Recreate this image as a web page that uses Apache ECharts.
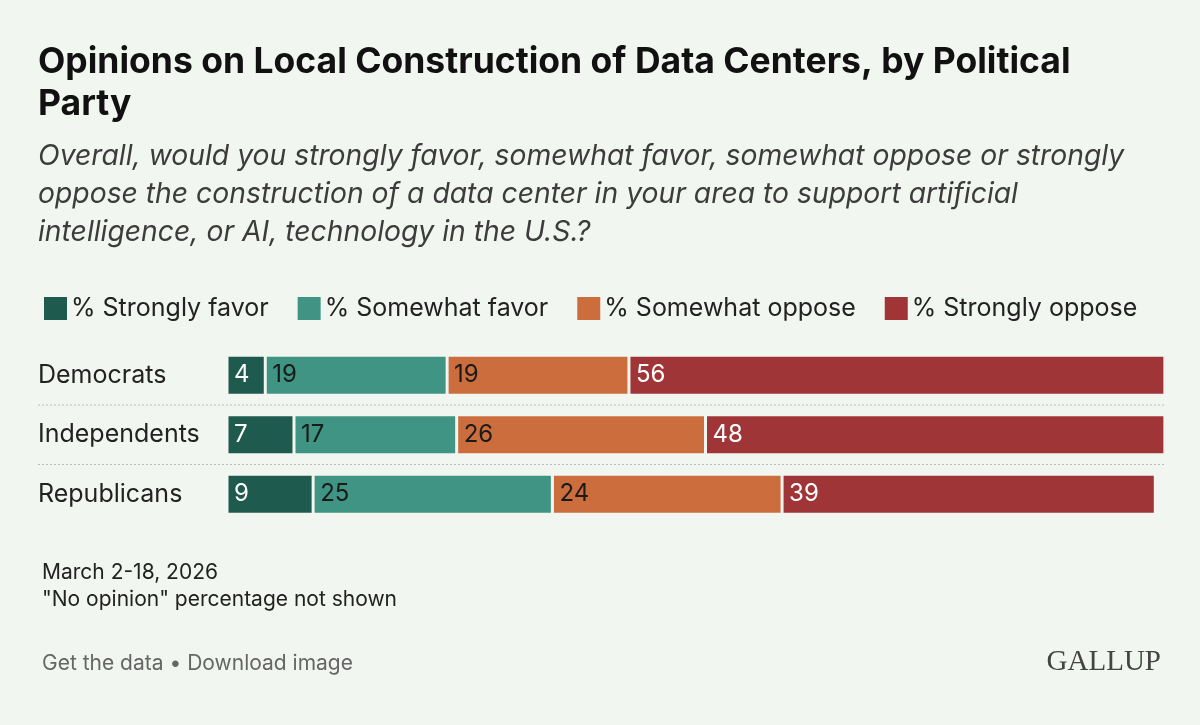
<!DOCTYPE html>
<html><head><meta charset="utf-8">
<script src="https://cdn.jsdelivr.net/npm/echarts@6/dist/echarts.min.js"></script>
<style>html,body{margin:0;background:#f2f6f0}#c{width:1200px;height:725px}</style>
</head><body><div id="c"></div>
<script>
const categories = ['Democrats','Independents','Republicans'];
const strongFavor = [4,7,9];
const someFavor = [19,17,25];
const someOppose = [19,26,24];
const strongOppose = [56,48,39];
const seriesNames = ['% Strongly favor','% Somewhat favor','% Somewhat oppose','% Strongly oppose'];
const colors = ['#1f5a4e','#3f9483','#cc6d3d','#a03538'];
const labelColors = ['#fff','#1a1a1a','#1a1a1a','#fff'];
const chart = echarts.init(document.getElementById('c'));
const F = 'Inter, "Noto Sans", sans-serif';
const mk = (name,data,i)=>({name,type:'bar',stack:'a',data,barWidth:40,
  itemStyle:{color:colors[i],borderColor:'#f2f6f0',borderWidth:1.5},
  label:{show:true,position:'insideLeft',offset:[2,0],color:labelColors[i],fontSize:24,fontFamily:F}});
chart.setOption({
  backgroundColor:'#f2f6f0',
  textStyle:{fontFamily:F},
  title:[{text:'Opinions on Local Construction of Data Centers, by Political\nParty',left:33,top:36,
    textStyle:{fontSize:35.5,fontWeight:'bold',color:'#111',lineHeight:42,fontFamily:F}},
   {text:'Overall, would you strongly favor, somewhat favor, somewhat oppose or strongly\noppose the construction of a data center in your area to support artificial\nintelligence, or AI, technology in the U.S.?',left:33,top:132,
    textStyle:{fontSize:28.3,fontStyle:'italic',fontWeight:'normal',color:'#3c3c3c',lineHeight:38,fontFamily:F}},
   {text:'March 2-18, 2026\n"No opinion" percentage not shown',left:37,top:554,
    textStyle:{fontSize:21,fontWeight:'normal',color:'#222',lineHeight:27,fontFamily:F}},
   {text:'Get the data • Download image',left:37,top:648,
    textStyle:{fontSize:21,fontWeight:'normal',color:'#666',fontFamily:F}},
   {text:'GALLUP',right:34,top:643,
    textStyle:{fontSize:29,fontWeight:'normal',color:'#444',fontFamily:'"Liberation Serif", serif'}}],
  legend:{left:37,top:290,itemWidth:25,itemHeight:25,itemGap:27,icon:'rect',
    textStyle:{fontSize:25,color:'#222',padding:[0,0,0,-2]},data:seriesNames},
  grid:{left:227,top:345.5,width:957,height:178.5},
  xAxis:{type:'value',min:0,max:100,show:false},
  yAxis:{type:'category',data:categories,inverse:true,axisLine:{show:false},axisTick:{show:false},
    axisLabel:{fontSize:25,color:'#222',align:'left',margin:189}},
  graphic:[
    {type:'line',shape:{x1:38,y1:405,x2:1165,y2:405},style:{stroke:'#bbb',lineWidth:1,lineDash:[2,2]}},
    {type:'line',shape:{x1:38,y1:464.5,x2:1165,y2:464.5},style:{stroke:'#bbb',lineWidth:1,lineDash:[2,2]}}],
  series:[mk(seriesNames[0],strongFavor,0),mk(seriesNames[1],someFavor,1),mk(seriesNames[2],someOppose,2),mk(seriesNames[3],strongOppose,3)]
});
</script></body></html>
